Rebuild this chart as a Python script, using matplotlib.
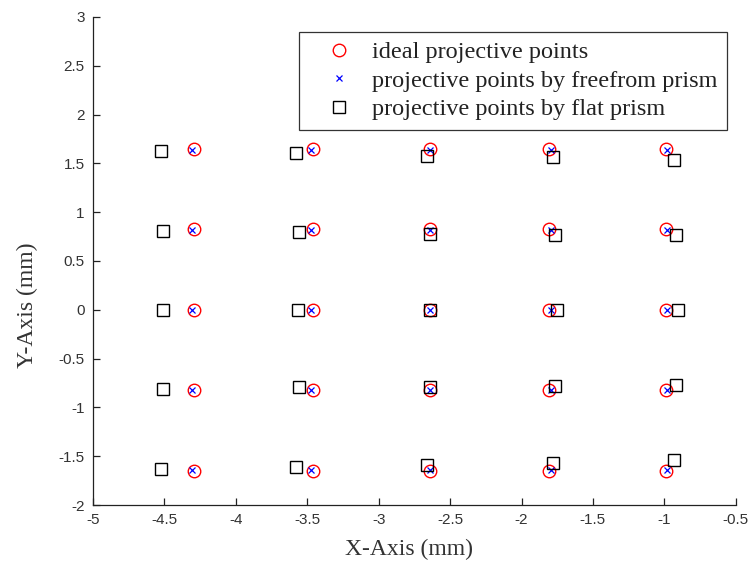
import numpy as np
import matplotlib
matplotlib.use('Agg')
import matplotlib.pyplot as plt

# grid columns / rows of the ideal projection (mm)
ideal_x = [-4.29, -3.46, -2.64, -1.81, -0.99]
ideal_y = [1.65, 0.825, 0.0, -0.825, -1.65]

# freeform prism: x per column, y per row (nearly on the ideal points)
free_x = [-4.307, -3.472, -2.64, -1.795, -0.978]
free_y = [1.64, 0.82, 0.0, -0.82, -1.64]

# flat prism: rows of (x, y), top row first
flat_x = [
    [-4.525, -3.578, -2.660, -1.776, -0.930],
    [-4.507, -3.558, -2.642, -1.766, -0.920],
    [-4.510, -3.564, -2.642, -1.752, -0.902],
    [-4.507, -3.558, -2.642, -1.766, -0.920],
    [-4.525, -3.578, -2.660, -1.776, -0.930],
]
flat_y = [
    [1.63, 1.61, 1.58, 1.565, 1.535],
    [0.81, 0.795, 0.78, 0.766, 0.766],
    [0.0, 0.0, 0.0, 0.0, 0.0],
    [-0.81, -0.795, -0.79, -0.78, -0.77],
    [-1.63, -1.61, -1.59, -1.565, -1.54],
]

labels = ['ideal projective points',
          'projective points by freefrom prism',
          'projective points by flat prism']

serif = ['Liberation Serif', 'DejaVu Serif']
sans = ['Liberation Sans', 'DejaVu Sans']

fig = plt.figure(figsize=(7.5, 5.62), dpi=100)
ax = fig.add_axes([0.124, 0.1014, 0.857, 0.8684])

ix, iy = np.meshgrid(ideal_x, ideal_y)
fx, fy = np.meshgrid(free_x, free_y)

ax.plot(ix.ravel(), iy.ravel(), 'o', ls='none', mfc='none', mec='red',
        ms=9, mew=1.0, label=labels[0])
ax.plot(fx.ravel(), fy.ravel(), 'x', ls='none', color='blue',
        ms=5, mew=0.9, label=labels[1])
ax.plot(np.ravel(flat_x), np.ravel(flat_y), 's', ls='none', mfc='none',
        mec='black', ms=8.5, mew=1.0, label=labels[2])

ax.set_xlim(-5, -0.5)
ax.set_ylim(-2, 3)
ax.set_xticks(np.arange(-5, -0.49, 0.5))
ax.set_yticks(np.arange(-2, 3.01, 0.5))
ax.set_xticklabels([f'{v:g}' for v in np.arange(-5, -0.49, 0.5)])
ax.set_yticklabels([f'{v:g}' for v in np.arange(-2, 3.01, 0.5)])

for s in ['top', 'right']:
    ax.spines[s].set_visible(False)
for s in ['left', 'bottom']:
    ax.spines[s].set_linewidth(0.9)
    ax.spines[s].set_color('#222222')

ax.tick_params(direction='in', length=5, width=0.9, colors='#222222',
               labelsize=11, pad=6)
for t in ax.get_xticklabels() + ax.get_yticklabels():
    t.set_family(sans)
    t.set_color('#333333')

ax.set_xlabel('X-Axis (mm)', family=serif, fontsize=17, color='#333333', va='center')
ax.set_ylabel('Y-Axis (mm)', family=serif, fontsize=17, color='#333333', va='center')
ax.xaxis.set_label_coords(0.491, -0.092)
ax.yaxis.set_label_coords(-0.102, 0.41)

leg = ax.legend(loc='upper right', bbox_to_anchor=(0.987, 0.970),
                prop={'family': serif, 'size': 17.5}, fancybox=False,
                frameon=True, borderpad=0.4, labelspacing=0.26,
                handletextpad=0.12, handlelength=2.5, borderaxespad=0)
leg.get_frame().set_edgecolor('black')
leg.get_frame().set_linewidth(0.9)
for t in leg.get_texts():
    t.set_color('#222222')

fig.savefig('out.png', dpi=100)
